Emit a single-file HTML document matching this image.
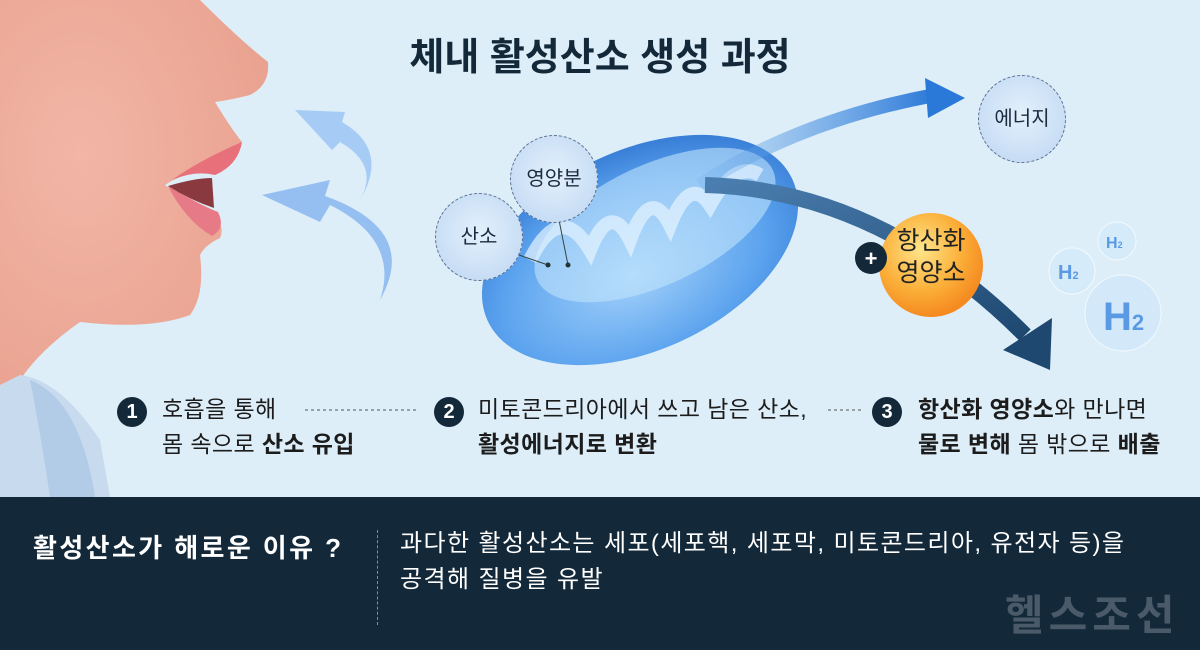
<!DOCTYPE html>
<html><head><meta charset="utf-8"><style>
body{margin:0;width:1200px;height:650px;overflow:hidden;background:#ddeef9;font-family:"Liberation Sans","Noto Sans CJK KR",sans-serif;position:relative}
.a{position:absolute}
.t{color:#1c1c1c;font-size:23px;line-height:35px;letter-spacing:0.4px}
b{font-weight:700}
.num{position:absolute;width:30px;height:30px;border-radius:50%;background:#13293a;color:#fff;font-weight:700;font-size:20px;text-align:center;line-height:30px}
.circ{position:absolute;border-radius:50%;border:1.5px dashed #5a7090;background:radial-gradient(circle at 50% 45%,#e4f0fc,#bcd6f2);text-align:center;color:#1c2c40;font-size:20px}
</style></head><body>
<svg class="a" style="left:0;top:0" width="1200" height="500">
<defs>
<radialGradient id="sk" cx="30%" cy="40%" r="80%"><stop offset="0" stop-color="#f2b6a6"/><stop offset="1" stop-color="#e9a08e"/></radialGradient>
<radialGradient id="mi" cx="45%" cy="60%" r="60%"><stop offset="0" stop-color="#a4d2fa"/><stop offset="0.7" stop-color="#5aa2ee"/><stop offset="1" stop-color="#3a80d8"/></radialGradient>
<radialGradient id="or" cx="40%" cy="35%" r="65%"><stop offset="0" stop-color="#ffe58a"/><stop offset="0.6" stop-color="#fbb03a"/><stop offset="1" stop-color="#f58a20"/></radialGradient>
<linearGradient id="ar1" x1="0" x2="1"><stop offset="0" stop-color="#6aa8e8" stop-opacity="0.2"/><stop offset="1" stop-color="#2a78d8"/></linearGradient>
<linearGradient id="ar2" x1="0" x2="1" y1="0" y2="1"><stop offset="0" stop-color="#4b7eb0"/><stop offset="1" stop-color="#1e4870"/></linearGradient>
</defs>
<path d="M0,0 L200,0 Q240,40 268,62 Q270,85 250,95 Q230,100 215,102 Q232,130 242,142 Q238,165 215,175 Q190,168 165,185 Q185,200 210,210 Q226,225 220,238 Q205,245 200,255 Q205,295 190,315 Q150,330 80,322 Q40,350 20,380 L0,385 Z" fill="url(#sk)"/>
<path d="M242,142 Q238,165 215,175 Q195,170 172,180 Q200,160 242,142Z" fill="#e8707a"/>
<path d="M168,186 Q200,205 218,212 Q226,228 212,236 Q185,220 168,186Z" fill="#e67a86"/>
<path d="M168,186 Q195,178 212,178 L214,208 Q190,200 168,186Z" fill="#8a3a3e"/>
<path d="M0,385 L20,375 Q60,380 100,440 L110,497 L0,497Z" fill="#c8daee"/>
<path d="M30,380 Q80,400 95,497 L50,497 Q40,430 30,380Z" fill="#b2cbe6"/>
<path d="M380,300 Q400,240 330,205 L320,222 L262,195 L330,180 L325,196 Q420,230 380,300Z" fill="#8ab6f0" opacity="0.85"/>
<path d="M360,200 Q380,165 340,142 L332,150 L295,110 L345,112 L342,122 Q390,150 360,200Z" fill="#9cc6f4" opacity="0.85"/>
<ellipse cx="640" cy="250" rx="168" ry="100" transform="rotate(-25 640 250)" fill="url(#mi)"/>
<ellipse cx="655" cy="225" rx="130" ry="60" transform="rotate(-25 655 225)" fill="#c0e2fc" opacity="0.6"/>
<path d="M530,260 Q560,200 590,250 Q610,200 630,240 Q650,185 670,225 Q690,175 710,205 Q735,160 760,175" stroke="#e6f4ff" stroke-width="14" fill="none" opacity="0.7"/>
<path d="M700,185 Q800,120 935,95" stroke="url(#ar1)" stroke-width="14" fill="none"/>
<path d="M925,78 L965,98 L928,118Z" fill="#2a78d8"/>
<path d="M705,185 Q880,190 1025,335" stroke="url(#ar2)" stroke-width="16" fill="none"/>
<path d="M1003,350 L1052,318 L1050,370Z" fill="#1e4870"/>
<line x1="305" y1="410" x2="418" y2="410" stroke="#555" stroke-dasharray="3,3"/>
<line x1="828" y1="410" x2="862" y2="410" stroke="#555" stroke-dasharray="3,3"/>
<line x1="548" y1="265" x2="490" y2="245" stroke="#344" stroke-width="1"/>
<line x1="568" y1="265" x2="558" y2="215" stroke="#344" stroke-width="1"/>
<circle cx="548" cy="265" r="2.5" fill="#233"/><circle cx="568" cy="265" r="2.5" fill="#233"/>
<circle cx="1072" cy="271" r="23" fill="#d6ebfa" stroke="#fff" stroke-opacity=".7"/>
<circle cx="1117" cy="241" r="19" fill="#d6ebfa" stroke="#fff" stroke-opacity=".7"/>
<circle cx="1123" cy="313" r="38" fill="#d3e9fa" stroke="#fff" stroke-opacity=".7"/>
<text x="1058" y="279" font-size="20" font-weight="700" fill="#5a9ae4" font-family="Liberation Sans">H<tspan font-size="11">2</tspan></text>
<text x="1106" y="248" font-size="16" font-weight="700" fill="#5a9ae4" font-family="Liberation Sans">H<tspan font-size="9">2</tspan></text>
<text x="1103" y="330" font-size="40" font-weight="700" fill="#5a9ae4" font-family="Liberation Sans">H<tspan font-size="22">2</tspan></text>
<circle cx="931" cy="265" r="52" fill="url(#or)"/>
<circle cx="871" cy="258" r="16" fill="#13293a"/>
<text x="871" y="266" font-size="22" font-weight="700" fill="#fff" text-anchor="middle" font-family="Liberation Sans">+</text>
</svg>
<div class="a" style="left:0;top:26px;width:1200px;text-align:center;font-size:38px;font-weight:700;color:#13293a">체내 활성산소 생성 과정</div>
<div class="circ" style="left:978px;top:75px;width:86px;height:86px;line-height:86px">에너지</div>
<div class="circ" style="left:510px;top:135px;width:86px;height:86px;line-height:86px">영양분</div>
<div class="circ" style="left:435px;top:193px;width:86px;height:86px;line-height:86px">산소</div>
<div class="a" style="left:876px;top:225px;width:110px;text-align:center;font-size:25px;line-height:32px;color:#222">항산화<br>영양소</div>
<div class="num" style="left:117px;top:397px">1</div>
<div class="a t" style="left:162px;top:392px">호흡을 통해<br>몸 속으로 <b>산소 유입</b></div>
<div class="num" style="left:434px;top:397px">2</div>
<div class="a t" style="left:478px;top:392px">미토콘드리아에서 쓰고 남은 산소,<br><b>활성에너지로 변환</b></div>
<div class="num" style="left:872px;top:397px">3</div>
<div class="a t" style="left:918px;top:392px"><b>항산화 영양소</b>와 만나면<br><b>물로 변해</b> 몸 밖으로 <b>배출</b></div>
<div class="a" style="left:0;top:497px;width:1200px;height:153px;background:#13293a"></div>
<div class="a" style="left:33px;top:528px;color:#fff;font-size:26px;font-weight:700;letter-spacing:2.4px">활성산소가 해로운 이유 ?</div>
<div class="a" style="left:377px;top:530px;height:95px;border-left:1px dashed #8090a0"></div>
<div class="a" style="left:400px;top:526px;color:#fff;font-size:24px;line-height:36px;letter-spacing:1.4px">과다한 활성산소는 세포(세포핵, 세포막, 미토콘드리아, 유전자 등)을<br>공격해 질병을 유발</div>
<div class="a" style="left:1005px;top:582px;color:#4a5a68;font-size:42px;font-weight:700;letter-spacing:5px">헬스조선</div>
</body></html>
